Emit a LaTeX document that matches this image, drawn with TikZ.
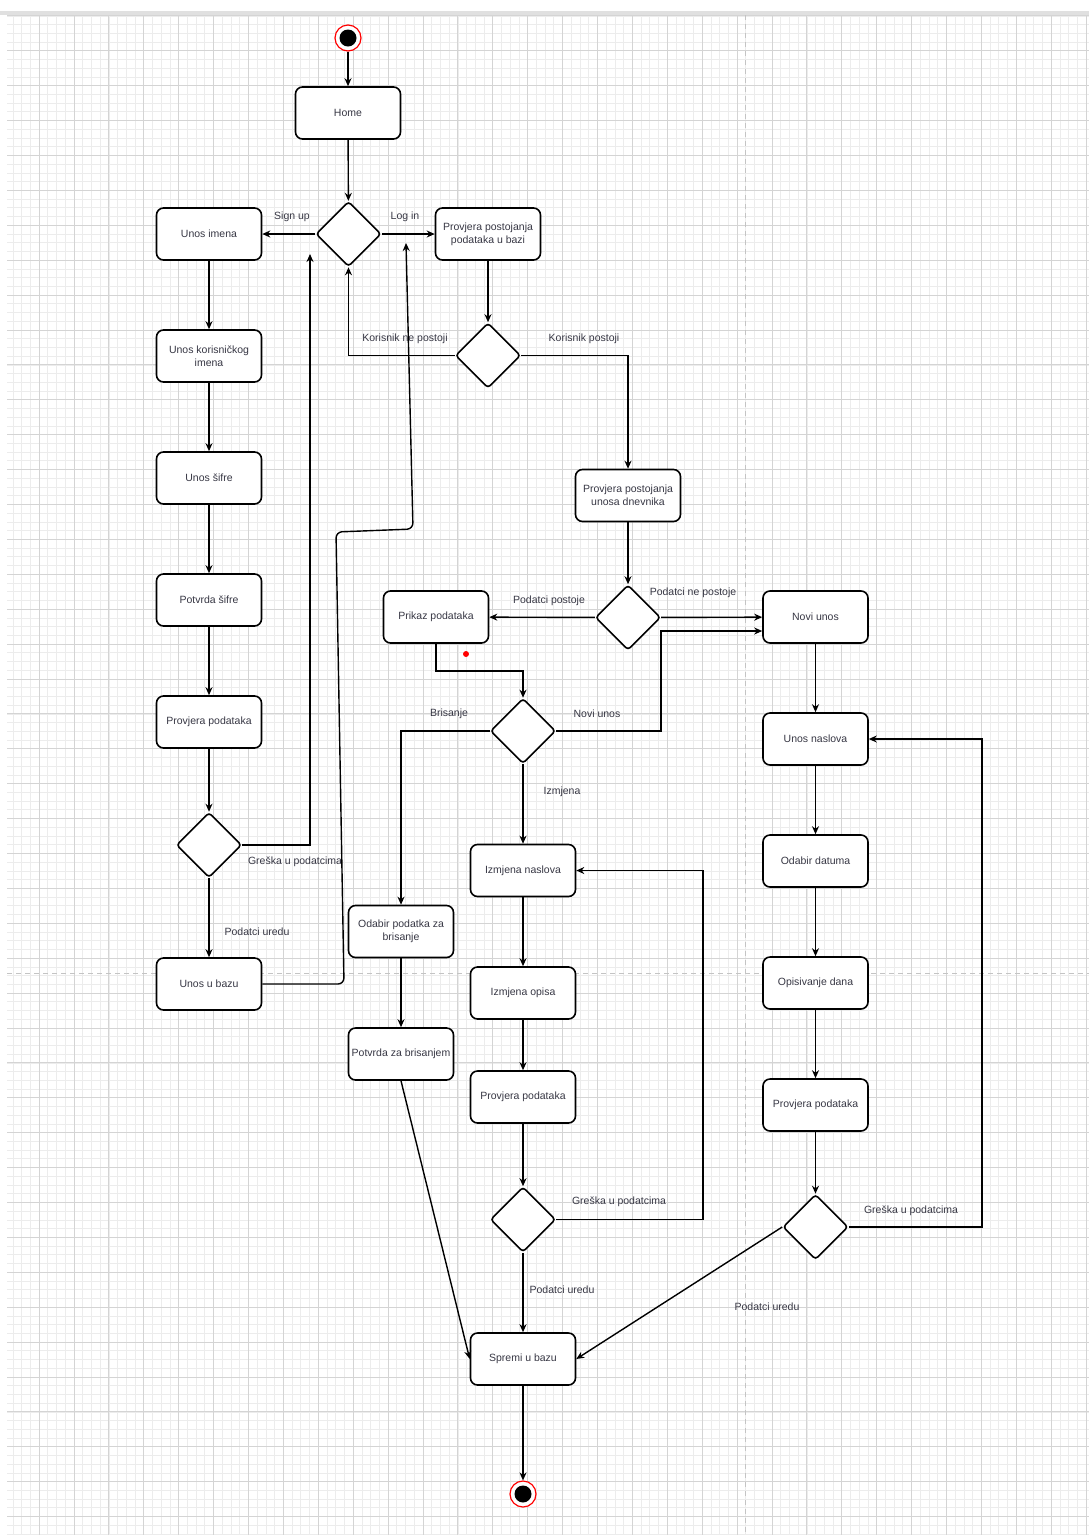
\documentclass[tikz,border=0pt]{standalone}
\usepackage{fontspec}
\setmainfont{Liberation Sans}
\usepackage{tikz}
\usetikzlibrary{shapes.geometric,arrows.meta}

\definecolor{txt}{RGB}{55,55,68}
\definecolor{gridmin}{RGB}{236,236,236}
\definecolor{gridmaj}{RGB}{212,212,212}
\definecolor{pagebr}{RGB}{196,196,196}

\begin{document}
\begin{tikzpicture}[x=1pt,y=-1pt,>={Stealth[length=8pt,width=7pt]},node distance=122pt,
  act/.style={rectangle,rounded corners=7pt,draw,line width=1.6pt,fill=white,minimum width=105pt,minimum height=52pt,inner sep=2pt,align=center,text=txt,font=\fontsize{10.5}{13}\selectfont},
  dec/.style={diamond,rounded corners=3pt,draw,line width=1.6pt,fill=white,minimum size=65pt,inner sep=0pt},
  term/.style={circle,draw=red,line width=1.2pt,fill=white,minimum size=26pt,inner sep=0pt,path picture={\fill[black] (path picture bounding box.center) circle (8.5pt);}},
  lbl/.style={text=txt,font=\fontsize{10.5}{13}\selectfont,inner sep=1pt},
  flow/.style={->,line width=1.4pt}]

% background grid
\useasboundingbox (0,0) rectangle (1089,1535);
\fill[white] (0,0) rectangle (1089,1535);
\begin{scope}
\clip (7,15) rectangle (1089,1535);
\foreach \i in {0,...,125} \draw[gridmin,line width=0.6pt] ({4.1+8.725*\i},15) -- ++(0,1520);
\foreach \j in {0,...,174} \draw[gridmin,line width=0.6pt] (7,{15.8+8.725*\j}) -- ++(1082,0);
\foreach \i in {0,...,31} \draw[gridmaj,line width=0.8pt] ({4.1+34.9*\i},15) -- ++(0,1520);
\foreach \j in {0,...,43} \draw[gridmaj,line width=0.8pt] (7,{15.8+34.9*\j}) -- ++(1082,0);
\end{scope}
\fill[black!12] (0,11) rectangle (1089,15);
\draw[pagebr,line width=1pt,dash pattern=on 5pt off 4pt] (745,15) -- (745,1535);
\draw[pagebr,line width=1pt,dash pattern=on 5pt off 4pt] (7,973) -- (1089,973);

% states
\node[term] (start) at (348,38) {};
\node[act] (home) at (348,113) {Home};
\node[dec] (d1) at (348.5,234) {};
\node[act] (unosime) at (209,234) {Unos imena};
\node[act] (unoskor) [below of=unosime] {Unos korisničkog\\imena};
\node[act] (unossif) [below of=unoskor] {Unos šifre};
\node[act] (potsif) [below of=unossif] {Potvrda šifre};
\node[act] (provpod) [below of=potsif] {Provjera podataka};
\node[dec] (d3) at (209,845) {};
\node[act] (unosbaza) at (209,984) {Unos u bazu};
\node[act] (provbaza) at (488,234) {Provjera postojanja\\podataka u bazi};
\node[dec] (d2) at (488,355.5) {};
\node[act] (provdnev) at (628,495.5) {Provjera postojanja\\unosa dnevnika};
\node[dec] (d4) at (628,617.5) {};
\node[act] (prikaz) at (436,617) {Prikaz podataka};
\node[act] (novi) at (815.5,617) {Novi unos};
\node[act] (unosnasl) [below of=novi] {Unos naslova};
\node[act] (odabirdat) [below of=unosnasl] {Odabir datuma};
\node[act] (opisdan) [below of=odabirdat] {Opisivanje dana};
\node[act] (provdesno) [below of=opisdan] {Provjera podataka};
\node[dec] (d7) [below of=provdesno] {};
\node[dec] (d5) at (523,731) {};
\node[act] (odabirbris) at (401,931.5) {Odabir podatka za\\brisanje};
\node[act] (potbris) at (401,1054) {Potvrda za brisanjem};
\node[act] (izmnasl) at (523,870.5) {Izmjena naslova};
\node[act] (izmopis) at (523,993) {Izmjena opisa};
\node[act] (provsred) at (523,1097) {Provjera podataka};
\node[dec] (d6) at (523,1219.5) {};
\node[act] (spremi) at (523,1359) {Spremi u bazu};
\node[term] (kraj) at (523,1494) {};
\node[circle,fill=red,minimum size=6pt,inner sep=0pt] (tocka) at (466,654) {};
\coordinate (povratak1) at (310,254);
\coordinate (povratak2) at (406,243);

% labels
\node[lbl] (lsign) at (292,217) {Sign up};
\node[lbl] (llog) at (405,217) {Log in};
\node[lbl] (lkne) at (405,339) {Korisnik ne postoji};
\node[lbl] (lkp) at (584,339) {Korisnik postoji};
\node[lbl] (lgr1) at (295,862) {Greška u podatcima};
\node[lbl] (lok1) at (257,932) {Podatci uredu};
\node[lbl] (lpp) at (549,601) {Podatci postoje};
\node[lbl] (lpne) at (693,593) {Podatci ne postoje};
\node[lbl] (lbris) at (449,714) {Brisanje};
\node[lbl] (lnovi) at (597,714) {Novi unos};
\node[lbl] (lizm) at (562,792) {Izmjena};
\node[lbl] (lgr2) at (619,1202) {Greška u podatcima};
\node[lbl] (lok2) at (562,1290) {Podatci uredu};
\node[lbl] (lgr3) at (911,1211) {Greška u podatcima};
\node[lbl] (lok3) at (767,1307) {Podatci uredu};

% transitions
\path[flow] (start) edge (home)
  (home) edge (d1)
  (d1) edge (unosime)
  (d1) edge (provbaza)
  (provbaza) edge (d2)
  (unosime) edge (unoskor)
  (unoskor) edge (unossif)
  (unossif) edge (potsif)
  (potsif) edge (provpod)
  (provpod) edge (d3)
  (d3) edge (unosbaza)
  (provdnev) edge (d4)
  (d4) edge (prikaz)
  (d4) edge (novi)
  (d5) edge (izmnasl)
  (izmnasl) edge (izmopis)
  (izmopis) edge (provsred)
  (provsred) edge (d6)
  (d6) edge (spremi)
  (odabirbris) edge (potbris)
  (novi) edge (unosnasl)
  (unosnasl) edge (odabirdat)
  (odabirdat) edge (opisdan)
  (opisdan) edge (provdesno)
  (provdesno) edge (d7)
  (spremi) edge (kraj);
\draw[flow] (d2.west) -| (d1.south);
\draw[flow] (d2.east) -| (provdnev.north);
\draw[flow] (d3.east) -| (povratak1);
\draw[flow,rounded corners=6pt] (unosbaza.east) -- (344,984) -- (336,532) -- (413,529) -- (povratak2);
\draw[flow] (prikaz.south) -- ++(0,27) -| (d5.north);
\draw[flow] (d5.west) -| (odabirbris.north);
\draw[flow] (d5.east) -- (661,731) |- ([yshift=-14pt]novi.west);
\draw[flow] (d6.east) -- ++(146.5,0) |- (izmnasl.east);
\draw[flow] (potbris.south) -- (spremi.west);
\draw[flow] (d7.east) -- ++(133,0) |- (unosnasl.east);
\draw[flow] (d7.west) -- (spremi.east);
\end{tikzpicture}
\end{document}
